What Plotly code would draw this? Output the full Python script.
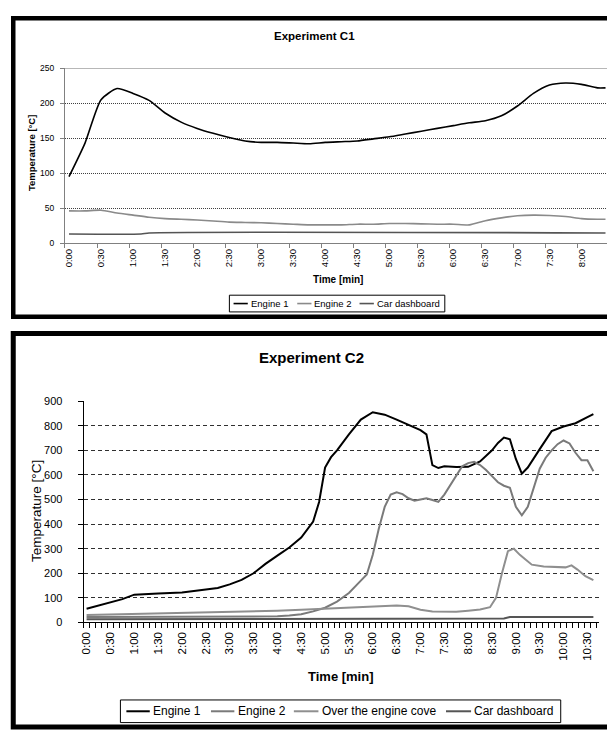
import plotly.graph_objects as go

W, H = 607, 734

# ---------------- Experiment C1 data (time in seconds) ----------------
c1_time = [0, 15, 30, 45, 60, 75, 90, 105, 120, 135, 150, 165, 180, 195, 210, 225,
           240, 255, 270, 285, 300, 315, 330, 345, 360, 375, 390, 405, 420, 435,
           450, 465, 480, 495, 502.5]
c1_engine1 = [95, 143, 205, 221, 214, 204, 186, 173, 164, 157, 151, 146, 144, 144,
              143, 142, 144, 145, 146, 149, 152, 156, 160, 164, 168, 172, 175, 182,
              196, 214, 226, 229, 227, 222, 222]
c1_engine2 = [46, 46, 47, 43, 40, 37, 35, 34, 33, 31.5, 30, 29.5, 29, 28, 27, 26, 26,
              26, 27, 27, 28, 28, 27.5, 27, 27, 26, 32, 36, 39, 40, 39.5, 38, 35, 34, 34]
c1_dash_time = [0, 67.5, 75, 502.5]
c1_dash = [13, 13, 14.5, 14.5]
c1_tick_sec = [0, 30, 60, 90, 120, 150, 180, 210, 240, 270, 300, 330, 360, 390, 420, 450, 480]
c1_tick_txt = ["0:00", "0:30", "1:00", "1:30", "2:00", "2:30", "3:00", "3:30", "4:00",
               "4:30", "5:00", "5:30", "6:00", "6:30", "7:00", "7:30", "8:00"]
c1_names = ["Engine 1", "Engine 2", "Car dashboard"]

# ---------------- Experiment C2 data (time in seconds) ----------------
c2_e1_time = [0, 15, 30, 45, 60, 75, 90, 105, 120, 135, 150, 165, 180, 195, 210, 225,
              240, 255, 270, 285, 292.5, 300, 307.5, 315, 330, 345, 360, 375, 390, 405,
              420, 427.5, 435, 442.5, 450, 465, 480, 495, 510, 517.5, 525, 532.5, 540,
              547.5, 555, 570, 585, 600, 615, 630, 637.5]
c2_engine1 = [56, 70, 83, 95, 113, 114, 118, 120, 122, 128, 135, 140, 155, 173, 200, 238,
              272, 305, 345, 410, 490, 630, 672, 700, 765, 825, 855, 845, 825, 803,
              782, 765, 640, 628, 635, 632, 633, 655, 700, 730, 752, 745, 665,
              605, 630, 705, 778, 797, 810, 835, 847]
c2_e2_time = [0, 30, 60, 90, 120, 150, 180, 210, 240, 255, 270, 285, 300, 315, 330, 345,
              352.5, 360, 367.5, 375, 382.5, 390, 397.5, 405, 412.5, 420, 427.5, 435,
              442.5, 450, 457.5, 465, 472.5, 480, 487.5, 495, 502.5, 510, 517.5, 525,
              532.5, 540, 547.5, 555, 562.5, 570, 577.5, 585, 592.5, 600, 607.5, 615,
              622.5, 630, 637.5]
c2_engine2 = [22, 22, 22, 23, 23, 23, 23, 23, 25, 28, 33, 45, 60, 85, 120, 170,
              195, 275, 380, 470, 520, 529, 522, 505, 495, 500, 505, 498,
              490, 520, 560, 600, 635, 648, 653, 640, 620, 595, 570, 556,
              548, 470, 436, 470, 545, 625, 670, 700, 725, 740, 728, 690,
              660, 660, 615]
c2_cove_time = [0, 30, 60, 90, 120, 150, 180, 210, 240, 270, 300, 330, 360, 390, 405, 420,
                435, 450, 465, 480, 495, 507.5, 515, 522.5, 530, 537.5, 545, 552.5, 560,
                575, 590, 602.5, 610, 617.5, 627.5, 637.5]
c2_cove = [30, 32, 35, 37, 38, 42, 43, 45, 48, 52, 56, 63, 66, 69, 66, 52,
           45, 44, 44, 48, 53, 62, 100, 200, 290, 300, 275, 255, 235,
           228, 225, 224, 232, 215, 188, 172]
c2_dash_time = [0, 150, 157.5, 525, 532.5, 637.5]
c2_dash = [13, 13, 16, 16, 22, 22]
c2_tick_sec = [0, 30, 60, 90, 120, 150, 180, 210, 240, 270, 300, 330, 360, 390, 420,
               450, 480, 510, 540, 570, 600, 630]
c2_tick_txt = ["0:00", "0:30", "1:00", "1:30", "2:00", "2:30", "3:00", "3:30", "4:00",
               "4:30", "5:00", "5:30", "6:00", "6:30", "7:00", "7:30", "8:00", "8:30",
               "9:00", "9:30", "10:00", "10:30"]
c2_names = ["Engine 1", "Engine 2", "Over the engine cove", "Car dashboard"]

# ---------------- styling ----------------
FONT = "Liberation Sans, Arial, sans-serif"
c1_colors = ["#000000", "#8a8a8a", "#555555"]
c2_colors = ["#000000", "#7a7a7a", "#8f8f8f", "#555555"]


def px(x):
    return x / W


def py(y):
    return 1 - y / H


fig = go.Figure()

# chart C1 traces
for t, v, name, col in [(c1_time, c1_engine1, c1_names[0], c1_colors[0]),
                        (c1_time, c1_engine2, c1_names[1], c1_colors[1]),
                        (c1_dash_time, c1_dash, c1_names[2], c1_colors[2])]:
    fig.add_trace(go.Scatter(x=t, y=v, name=name, mode="lines", xaxis="x", yaxis="y",
                             line=dict(color=col, width=1.6, shape="spline", smoothing=0.6),
                             showlegend=False, hoverinfo="skip"))

# chart C2 traces
for t, v, name, col in [(c2_e1_time, c2_engine1, c2_names[0], c2_colors[0]),
                        (c2_e2_time, c2_engine2, c2_names[1], c2_colors[1]),
                        (c2_cove_time, c2_cove, c2_names[2], c2_colors[2]),
                        (c2_dash_time, c2_dash, c2_names[3], c2_colors[3])]:
    fig.add_trace(go.Scatter(x=t, y=v, name=name, mode="lines", xaxis="x2", yaxis="y2",
                             line=dict(color=col, width=2),
                             showlegend=False, hoverinfo="skip"))

# axes geometry (pixels)
c1_left, c1_top, c1_bottom = 62.3, 63.3, 241.0
c2_left, c2_right, c2_top, c2_bottom = 81.0, 599.3, 401.7, 626.7

fig.update_layout(
    width=W, height=H, autosize=False,
    margin=dict(l=0, r=0, t=0, b=0),
    paper_bgcolor="white", plot_bgcolor="white",
    font=dict(family=FONT, color="black"),
    xaxis=dict(domain=[px(c1_left), 1], range=[-3.75, 503.9],
               tickmode="array", tickvals=c1_tick_sec, ticktext=c1_tick_txt,
               tickangle=-90, ticks="", tickfont=dict(size=9.5),
               showline=True, linecolor="#808080", linewidth=1,
               showgrid=False, zeroline=False, anchor="y",
               ticklabelstandoff=1,
               minor=dict(tick0=-3.75, dtick=30, ticks="outside", ticklen=4,
                          tickcolor="#808080", showgrid=False)),
    yaxis=dict(domain=[py(c1_bottom), py(c1_top)], range=[0, 250],
               tickmode="array", tickvals=[0, 50, 100, 150, 200, 250],
               ticks="outside", ticklen=4, tickcolor="#808080", tickfont=dict(size=8.5),
               showline=True, linecolor="#808080", linewidth=1,
               showgrid=True, gridcolor="#404040", griddash="1px,1px", gridwidth=1,
               zeroline=False, anchor="x", ticklabelstandoff=4),
    xaxis2=dict(domain=[px(c2_left), px(c2_right)], range=[-3.75, 645],
                tickmode="array", tickvals=c2_tick_sec, ticktext=c2_tick_txt,
                tickangle=-90, ticks="", tickfont=dict(size=11.5),
                showline=True, linecolor="black", linewidth=1,
                showgrid=False, zeroline=False, anchor="y2",
                ticklabelstandoff=4,
                minor=dict(tick0=-3.75, dtick=7.5, ticks="outside", ticklen=5,
                           tickcolor="black", showgrid=False)),
    yaxis2=dict(domain=[py(c2_bottom), py(c2_top)], range=[0, 900],
                tickmode="array", tickvals=[0, 100, 200, 300, 400, 500, 600, 700, 800, 900],
                ticks="outside", ticklen=5, tickcolor="black", tickfont=dict(size=11),
                showline=True, linecolor="black", linewidth=1,
                showgrid=True, gridcolor="#303030", griddash="4px,3px", gridwidth=1.2,
                zeroline=False, anchor="x2", ticklabelstandoff=13),
)

shapes = []
# outer frames
shapes.append(dict(type="rect", xref="paper", yref="paper",
                   x0=px(10.3), x1=px(640), y0=py(12.5), y1=py(316),
                   line=dict(color="black", width=4.5), fillcolor="rgba(0,0,0,0)"))
shapes.append(dict(type="rect", xref="paper", yref="paper",
                   x0=px(10.3), x1=px(640), y0=py(333), y1=py(733),
                   line=dict(color="black", width=5), fillcolor="rgba(0,0,0,0)"))
# C1 plot-area top border
shapes.append(dict(type="line", xref="x domain", yref="y", x0=0, x1=1, y0=250, y1=250,
                   line=dict(color="#808080", width=1)))

annotations = []


def text(x, y, s, size, bold=False, angle=0, xanchor="center"):
    annotations.append(dict(xref="paper", yref="paper", x=px(x), y=py(y),
                            text=f"<b>{s}</b>" if bold else s, showarrow=False,
                            textangle=angle, xanchor=xanchor, yanchor="middle",
                            font=dict(family=FONT, size=size, color="black")))


# titles
text(313, 31, "Experiment C1", 11.5, bold=True)
text(336.5, 278, "Time [min]", 10, bold=True)
text(28.7, 150, "Temperature [°C]", 9.5, bold=True, angle=-90)

text(310, 357, "Experiment C2", 15, bold=True)
text(340, 681.5, "Time [min]", 13, bold=True)
text(33.5, 513, "Temperature [°C]", 13.5, angle=-90)

# legend C1 (manual)
shapes.append(dict(type="rect", xref="paper", yref="paper",
                   x0=px(227.5), x1=px(444), y0=py(294), y1=py(311),
                   line=dict(color="black", width=1), fillcolor="white"))
c1_leg_sw = [(231.7, 246), (295.7, 310), (358.3, 372.7)]
for (a, b), name, col in zip(c1_leg_sw, c1_names, c1_colors):
    shapes.append(dict(type="line", xref="paper", yref="paper", x0=px(a), x1=px(b),
                       y0=py(302.5), y1=py(302.5), line=dict(color=col, width=1.6)))
    text(b + 0.8, 302.5, name, 9.5, xanchor="left")

# legend C2 (manual)
shapes.append(dict(type="rect", xref="paper", yref="paper",
                   x0=px(118), x1=px(560.5), y0=py(705.5), y1=py(728.5),
                   line=dict(color="black", width=1), fillcolor="white"))
c2_leg_sw = [(124, 147.5), (209, 232.5), (292.3, 317), (445.2, 470.4)]
for (a, b), name, col in zip(c2_leg_sw, c2_names, c2_colors):
    shapes.append(dict(type="line", xref="paper", yref="paper", x0=px(a), x1=px(b),
                       y0=py(717), y1=py(717), line=dict(color=col, width=2)))
    text(b + 1.2, 717, name, 12, xanchor="left")

fig.update_layout(shapes=shapes, annotations=annotations)

fig.write_html("out.html")
